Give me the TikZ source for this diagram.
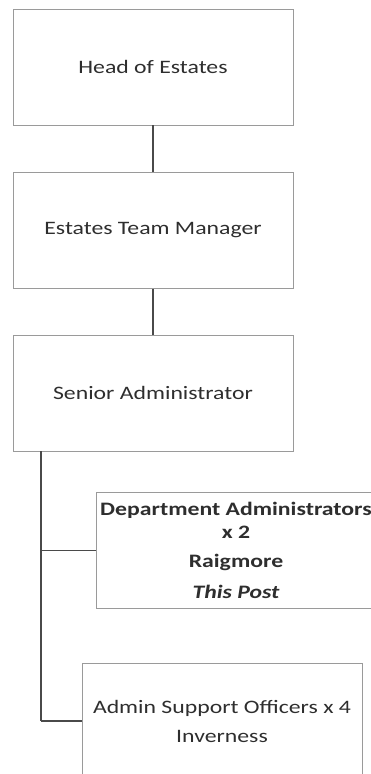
\documentclass[tikz,border=0pt]{standalone}
\usepackage{fontspec}
\setmainfont{Carlito}[FakeStretch=1.25]
\usepackage{tikz}

\definecolor{boxline}{HTML}{9A9A9A}
\definecolor{linkline}{HTML}{4A4A4A}
\definecolor{ink}{HTML}{2E2E2E}

\begin{document}
\begin{tikzpicture}[x=1pt,y=-1pt]
   \useasboundingbox (0,0) rectangle (371,774);
   \begin{scope}[every node/.style={rectangle,draw=boxline,line width=0.9pt,
        minimum width=280pt,minimum height=116pt,inner sep=0pt,align=center,
        text=ink,font=\fontsize{19}{23}\selectfont}]
    \node (head) at (153,67) {Head of Estates};
    \node (manager) at (153,230.5) {Estates Team Manager};
    \node (senior) at (153,393) {Senior Administrator};
    \node (dept) at (236,550.5) {\bfseries Department Administrators\\
        \bfseries x 2\\[6pt] \bfseries Raigmore\\[8pt] \bfseries\itshape This Post};
    \node (support) at (222,721) {Admin Support Officers x 4\\[6pt] Inverness};
   \end{scope}
   \coordinate (spine) at (41,451);
   \begin{scope}[every edge/.style={draw=linkline,line width=1.4pt}]
    \draw  (head) edge (manager);
    \draw  (manager) edge (senior);
    \draw  (spine) edge[-] (spine |- support.west);
    \draw [draw=linkline,line width=1.4pt] (spine |- dept.west) -- (dept.west);
    \draw [draw=linkline,line width=1.4pt] (spine |- support.west) -- (support.west);
   \end{scope}
\end{tikzpicture}
\end{document}
